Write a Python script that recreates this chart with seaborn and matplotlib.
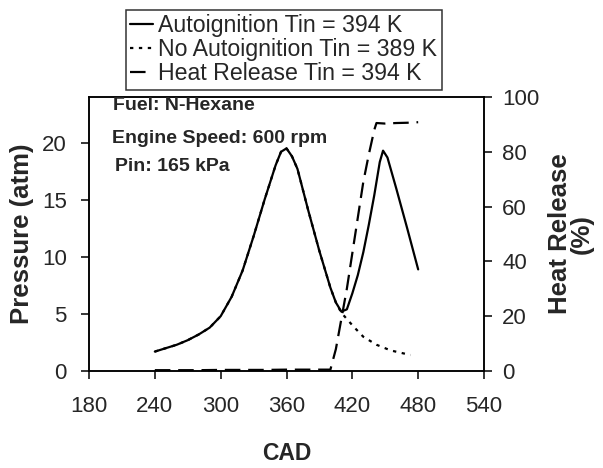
import matplotlib
matplotlib.use("Agg")
import matplotlib.pyplot as plt
import seaborn as sns
import pandas as pd

# ---- data ----
cad_auto = [240, 250, 260, 270, 280, 290, 300, 310, 320, 330, 340, 350, 355, 360,
            365, 370, 380, 390, 400, 405, 410, 415, 420, 425, 430, 435, 440, 445,
            448, 452, 460, 470, 480]
p_auto = [1.7, 2.0, 2.3, 2.7, 3.2, 3.8, 4.8, 6.5, 8.8, 11.8, 15.0, 18.0, 19.2, 19.5,
          18.8, 17.7, 14.0, 10.5, 7.3, 6.0, 5.2, 5.4, 6.8, 8.4, 10.4, 12.8, 15.4, 18.3,
          19.3, 18.7, 16.0, 12.5, 8.9]

cad_noauto = [240, 250, 260, 270, 280, 290, 300, 310, 320, 330, 340, 350, 355, 360,
              365, 370, 380, 390, 400, 405, 410, 421, 430, 442, 455, 473]
p_noauto = [1.7, 2.0, 2.3, 2.7, 3.2, 3.8, 4.8, 6.5, 8.8, 11.8, 15.0, 18.0, 19.2, 19.5,
            18.8, 17.7, 14.0, 10.5, 7.3, 6.0, 5.1, 3.9, 3.0, 2.3, 1.8, 1.4]

cad_hr = [240, 260, 280, 300, 320, 340, 360, 380, 400, 405, 410, 415, 420, 425,
          430, 435, 440, 442, 450, 460, 470, 480]
hr = [0.3, 0.3, 0.3, 0.4, 0.4, 0.4, 0.5, 0.5, 0.5, 8.0, 19.0, 30.0, 43.0, 56.0,
      69.0, 79.0, 88.0, 90.5, 90.3, 90.5, 90.6, 90.8]

labels = ["Autoignition Tin = 394 K", "No Autoignition Tin = 389 K",
          "Heat Release Tin = 394 K"]
x_ticks = [180, 240, 300, 360, 420, 480, 540]
y_ticks = [0, 5, 10, 15, 20]
y2_ticks = [0, 20, 40, 60, 80, 100]
info_text = ["Fuel: N-Hexane", "Engine Speed: 600 rpm", "Pin: 165 kPa"]

sns.set_style("ticks")
plt.rcParams["font.family"] = ["Liberation Sans", "DejaVu Sans"]

fig = plt.figure(figsize=(6.03, 4.68), dpi=100)
ax = fig.add_axes([89 / 603, 1 - 371 / 468, (484 - 89) / 603, (371 - 97) / 468])
ax2 = ax.twinx()

df_a = pd.DataFrame({"CAD": cad_auto, "P": p_auto})
df_n = pd.DataFrame({"CAD": cad_noauto, "P": p_noauto})
df_h = pd.DataFrame({"CAD": cad_hr, "HR": hr})

sns.lineplot(data=df_n, x="CAD", y="P", ax=ax, color="black", lw=1.6,
             linestyle=(0, (1.5, 2.5)), sort=False, label=labels[1], legend=False)
sns.lineplot(data=df_a, x="CAD", y="P", ax=ax, color="black", lw=1.6,
             sort=False, label=labels[0], legend=False)
sns.lineplot(data=df_h, x="CAD", y="HR", ax=ax2, color="black", lw=1.6,
             linestyle=(0, (7, 3.5)), sort=False, label=labels[2], legend=False)

ax.set_xlim(180, 540)
ax.set_ylim(0, 24)
ax2.set_ylim(0, 100)
ax.set_xticks(x_ticks)
ax.set_yticks(y_ticks)
ax2.set_yticks(y2_ticks)

for a in (ax, ax2):
    for s in a.spines.values():
        s.set_visible(True)
        s.set_linewidth(1.1)
        s.set_color("black")
ax.tick_params(axis="both", labelsize=16, length=6, width=1.1, color="black",
               direction="out")
ax.tick_params(axis="x", pad=12)
ax.tick_params(axis="y", pad=10)
ax2.tick_params(axis="y", labelsize=16, length=6, width=1.1, color="black",
                direction="out", pad=7)

ax.set_xlabel("CAD", fontsize=16.5, fontweight="bold", labelpad=18)
ax.set_ylabel("Pressure (atm)", fontsize=18.5, fontweight="bold", labelpad=6)
ax2.set_ylabel("Heat Release\n(%)", fontsize=18.5, fontweight="bold", labelpad=6,
               linespacing=0.9)

ys = [105, 138, 166]
xs = [113, 112, 115]
for t, xp, yp in zip(info_text, xs, ys):
    fig.text(xp / 603, 1 - yp / 468, t, fontsize=14, fontweight="bold",
             va="center", ha="left")

h1, l1 = ax.get_legend_handles_labels()
h2, l2 = ax2.get_legend_handles_labels()
hmap = dict(zip(l1 + l2, h1 + h2))
x0, x1, y0, y1 = 126, 442, 10, 92
leg = fig.legend([hmap[l] for l in labels], labels, loc="upper left",
                 bbox_to_anchor=(x0 / 603, 1 - y1 / 468, (x1 - x0) / 603, (y1 - y0) / 468),
                 mode="expand", fontsize=16.7,
                 frameon=True, fancybox=False, edgecolor="black",
                 handlelength=1.0, handletextpad=0.2, labelspacing=0.05,
                 borderpad=0.18, borderaxespad=0.0)
leg.get_frame().set_linewidth(1.1)

fig.savefig("out.png", dpi=100)
